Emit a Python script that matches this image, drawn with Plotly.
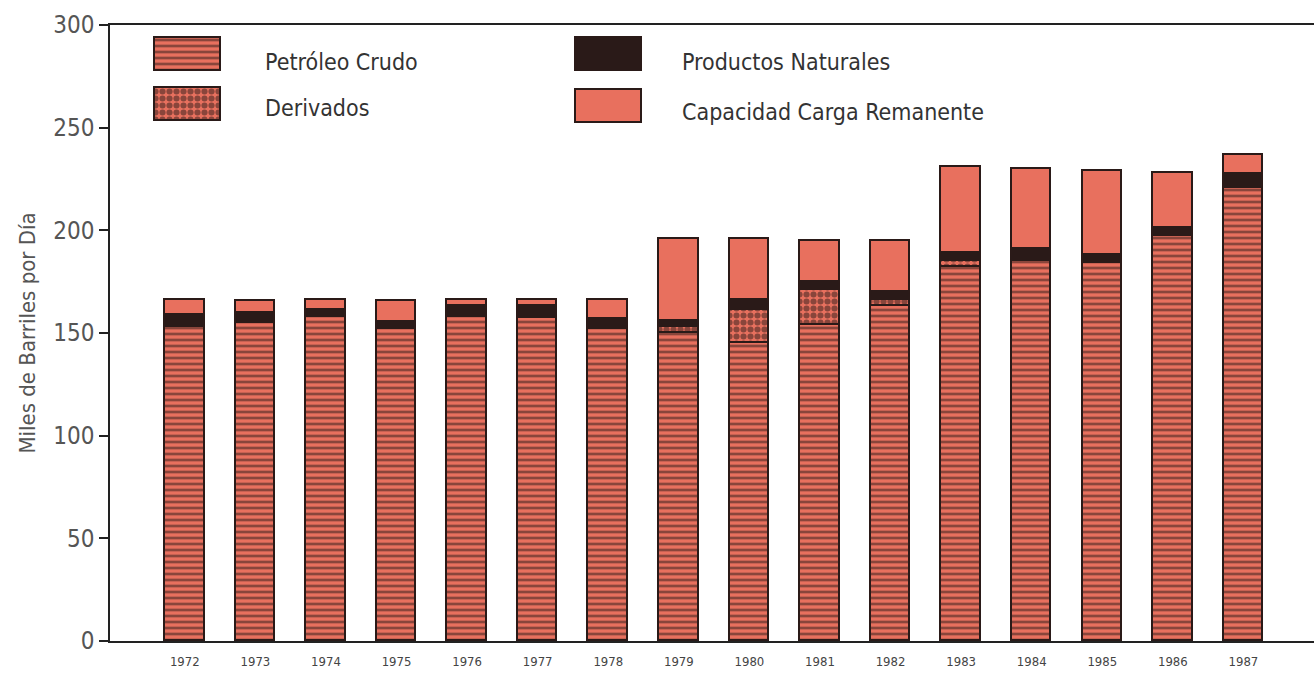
import plotly.graph_objects as go

# Refinery throughput, thousands of barrels per day
years = [1972, 1973, 1974, 1975, 1976, 1977, 1978, 1979,
         1980, 1981, 1982, 1983, 1984, 1985, 1986, 1987]
petroleo_crudo = [153, 155, 158, 152, 158, 157.5, 152, 150,
                  145, 154, 163, 182, 185, 184, 197, 220.5]
derivados = [0, 0, 0, 0, 0, 0, 0, 3,
             16, 17, 3, 3, 0, 0, 0, 0]
productos_naturales = [6, 4.5, 3, 3.5, 5, 5.5, 5, 3,
                       5, 4, 4, 4, 6, 4, 4, 7]
capacidad_remanente = [7, 6, 5, 10, 3, 3, 9, 40,
                       30, 20, 25, 42, 39, 41, 27, 9]

series_names = ["Petróleo Crudo", "Derivados",
                "Productos Naturales", "Capacidad Carga Remanente"]

SALMON = "#E8705E"
DARK = "#2A1A18"
FONT = "DejaVu Sans Condensed, Liberation Sans Narrow, Arial Narrow, sans-serif"

styles = [
    dict(color=SALMON, pattern=dict(shape="-", fgcolor=DARK, bgcolor=SALMON,
                                    size=6, solidity=0.45, fillmode="overlay")),
    dict(color=SALMON, pattern=dict(shape=".", fgcolor=DARK, bgcolor=SALMON,
                                    size=7, solidity=0.6, fillmode="overlay")),
    dict(color=DARK),
    dict(color=SALMON),
]

fig = go.Figure()

for name, vals, st in zip(series_names,
                          [petroleo_crudo, derivados, productos_naturales, capacidad_remanente],
                          styles):
    fig.add_trace(go.Bar(
        x=years, y=vals, name=name, width=0.56,
        marker=dict(line=dict(color=DARK, width=1.8), **st),
        showlegend=False, hoverinfo="skip",
    ))

# Legend swatches drawn as bars on a pixel-scaled overlay axis
swatch_x = [188, 188, 609, 609]
swatch_top = [38, 88, 38, 90]
swatch_w = 66
swatch_h = 33
label_x = [263, 263, 680, 680]
label_y = [62, 108, 62, 112]

for i, (name, st) in enumerate(zip(series_names, styles)):
    fig.add_trace(go.Bar(
        x=[swatch_x[i]], y=[swatch_h], base=[swatch_top[i]], width=[swatch_w],
        xaxis="x2", yaxis="y2",
        marker=dict(line=dict(color=DARK, width=1.8), **st),
        showlegend=False, hoverinfo="skip",
    ))
    fig.add_annotation(
        x=label_x[i], y=label_y[i], xref="x2", yref="y2",
        text=name, showarrow=False, xanchor="left", yanchor="middle",
        font=dict(family=FONT, size=23, color="#333333"),
    )

fig.update_layout(
    width=1314, height=681,
    margin=dict(l=110, r=0, t=25, b=40),
    paper_bgcolor="white", plot_bgcolor="white",
    barmode="stack",
    bargap=0,
    xaxis=dict(
        range=[1970.94, 1988.0],
        tickmode="array", tickvals=years, ticktext=[str(y) for y in years],
        showline=True, linecolor="#222222", linewidth=1.5, mirror=True,
        ticks="", showgrid=False, zeroline=False,
        tickfont=dict(family=FONT, size=13, color="#444444"),
        ticklabelstandoff=8,
    ),
    yaxis=dict(
        range=[0, 300], tickvals=[0, 50, 100, 150, 200, 250, 300],
        showline=True, linecolor="#222222", linewidth=1.5,
        ticks="outside", ticklen=9, tickcolor="#222222", tickwidth=1.5,
        showgrid=False, zeroline=False,
        tickfont=dict(family=FONT, size=24, color="#555555"),
        title=dict(text="Miles de Barriles por Día",
                   font=dict(family=FONT, size=22, color="#555555"),
                   standoff=12),
    ),
    xaxis2=dict(range=[110, 1314], overlaying="x", visible=False,
                anchor="y2", fixedrange=True),
    yaxis2=dict(range=[641, 25], overlaying="y", visible=False,
                anchor="x2", fixedrange=True),
)

fig.write_html("out.html")
